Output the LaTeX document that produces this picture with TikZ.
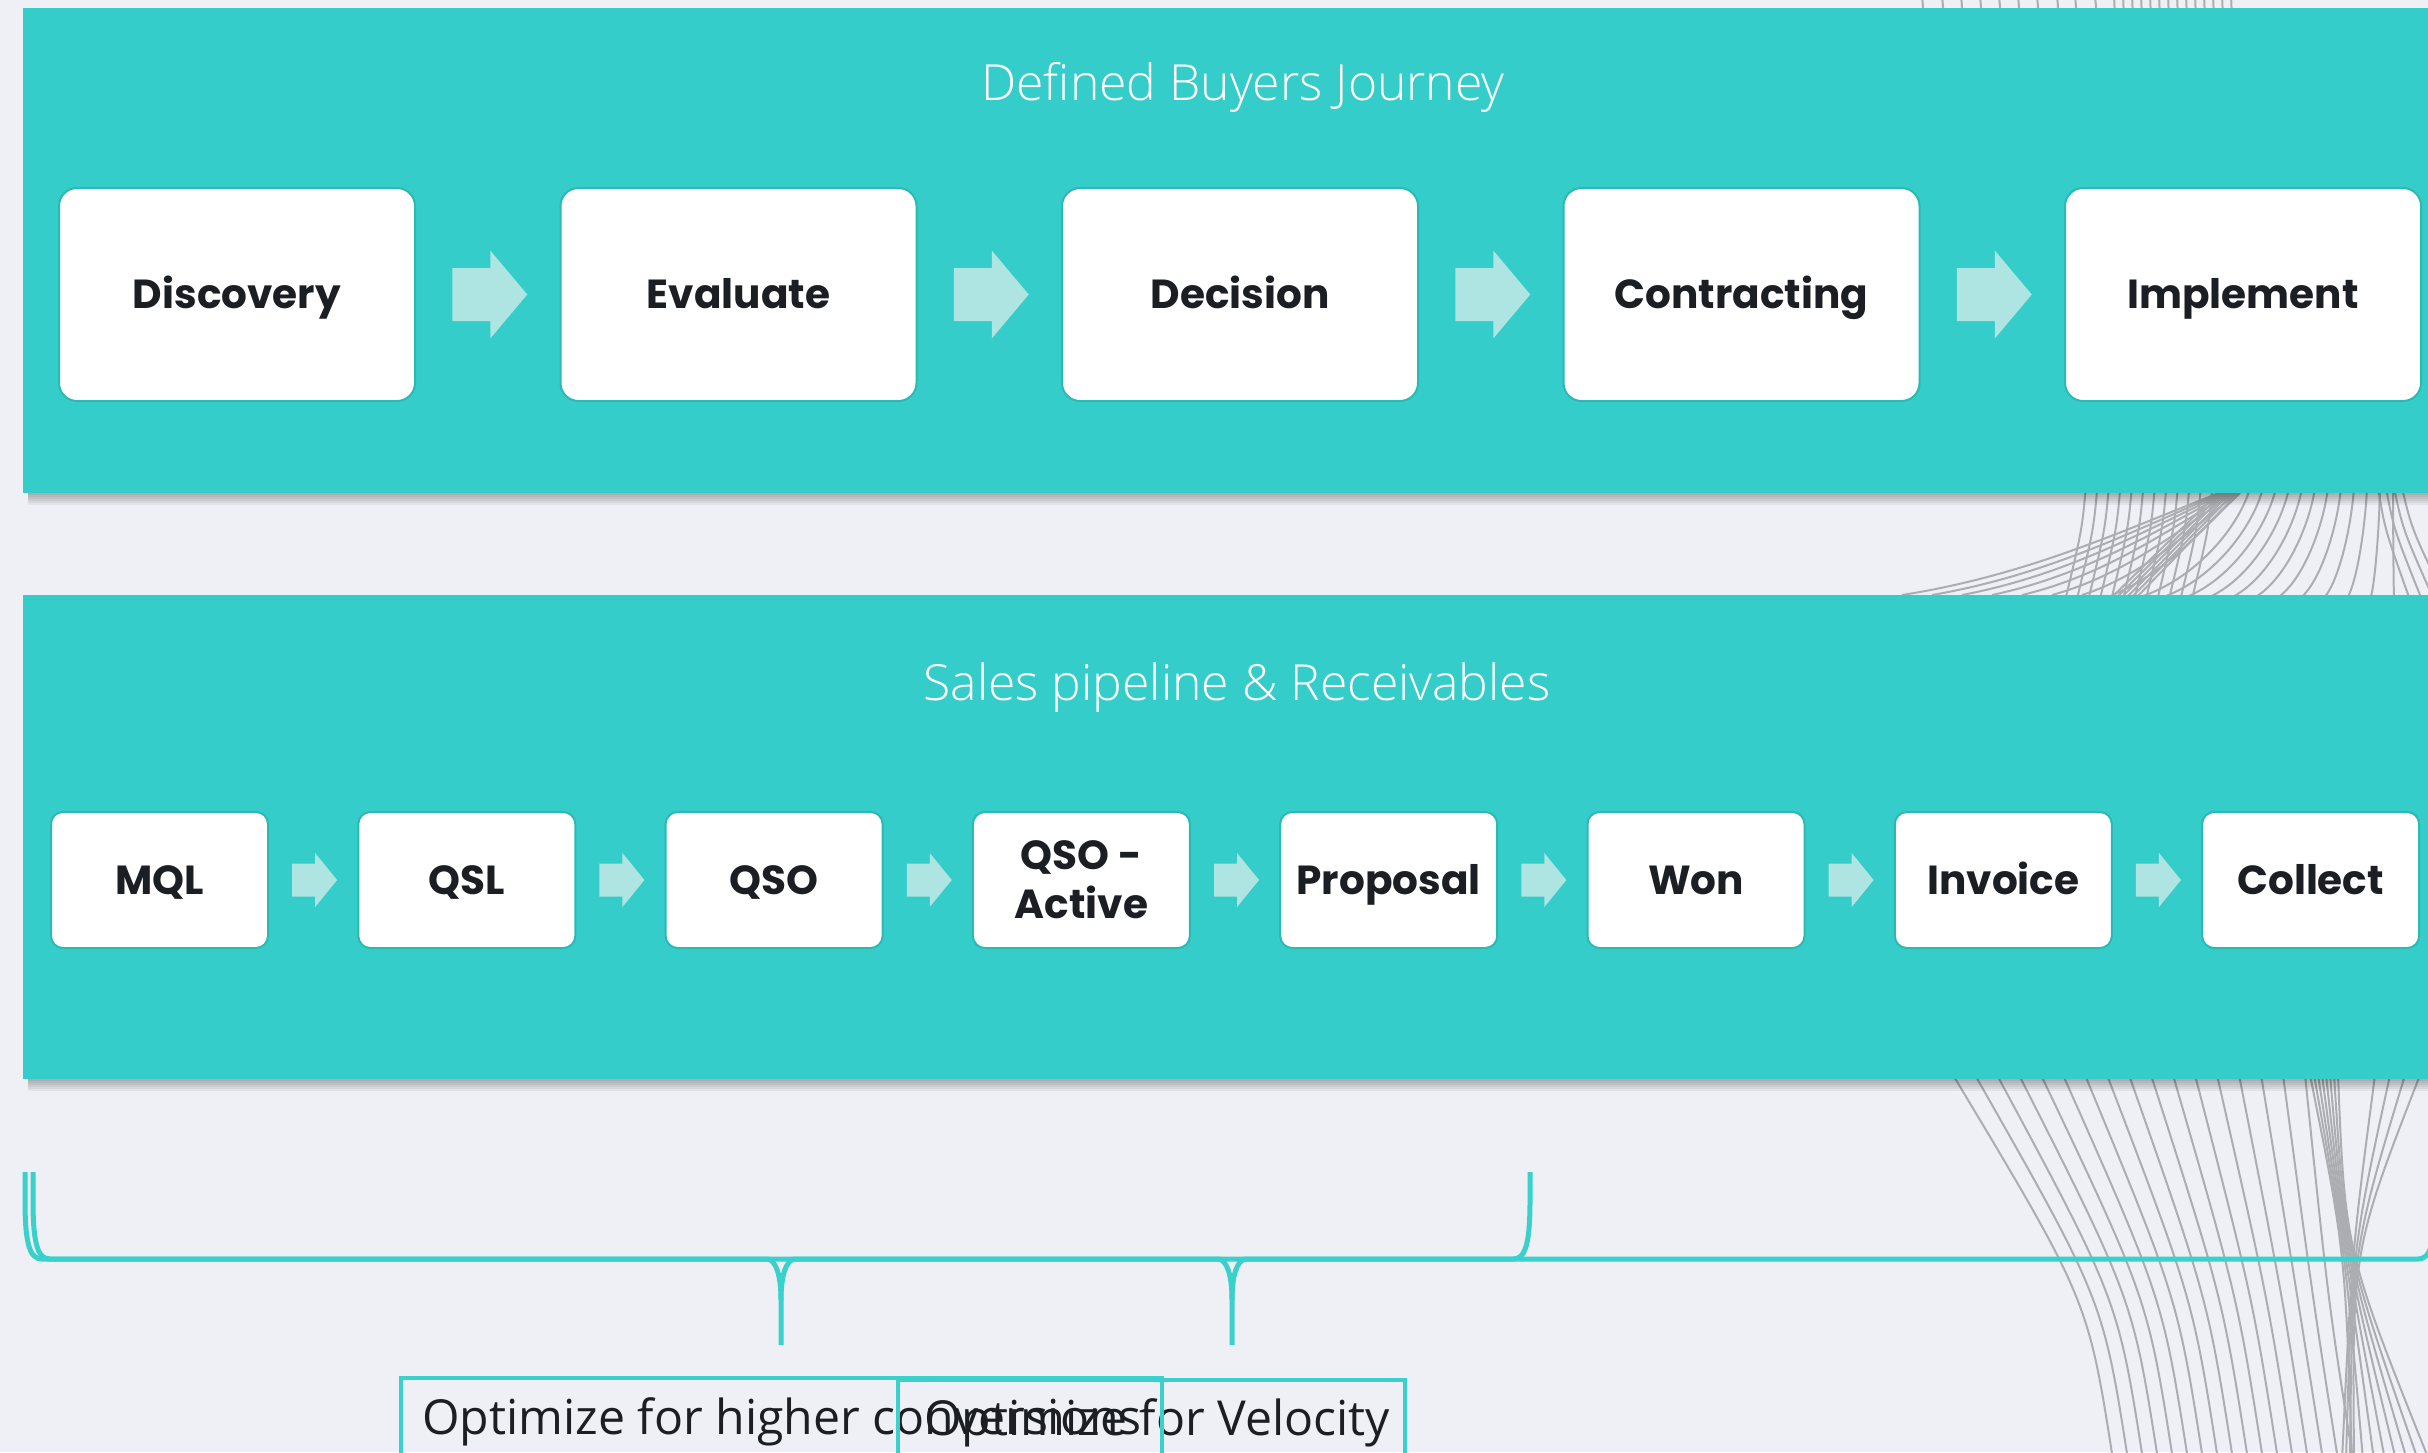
\documentclass[tikz,border=0pt]{standalone}
\usepackage{fontspec}
\setmainfont{Open Sans}
\newfontfamily\lightfont{Open Sans Light}
\newfontfamily\labelfont{Poppins}
\usetikzlibrary{calc}

\definecolor{bg}{RGB}{239,240,245}
\definecolor{panel}{RGB}{53,205,201}
\definecolor{stepfill}{RGB}{174,228,225}
\definecolor{boxedge}{RGB}{44,185,179}
\definecolor{ink}{RGB}{27,31,36}
\definecolor{wavegray}{RGB}{172,173,177}
\definecolor{bracecol}{RGB}{58,208,204}

\tikzset{
  panelbox/.style={fill=panel, draw=none, anchor=north west, inner sep=0pt},
  labeltext/.style={font=\labelfont\bfseries\fontsize{20.3}{24}\selectfont, text=ink,
    text height=14.3pt, text depth=0pt, inner sep=0pt},
  stagebox/.style={labeltext, fill=white, draw=boxedge, line width=1pt,
    rounded corners=9pt, minimum width=178pt, minimum height=106.5pt},
  pipebox/.style={labeltext, fill=white, draw=boxedge, line width=1pt,
    rounded corners=6pt, minimum width=108.5pt, minimum height=68pt},
  paneltitle/.style={text=white, font=\lightfont\fontsize{24.9}{29}\selectfont,
    anchor=base, inner sep=0pt},
  goal/.style={text=ink, font=\fontsize{24.1}{28}\selectfont, anchor=base west, inner sep=0pt},
  goalframe/.style={draw=bracecol, line width=1.7pt},
  wave/.style={draw=wavegray, line width=1pt},
  brace/.style={draw=bracecol, line width=2.5pt, line join=round},
}

\begin{document}
\begin{tikzpicture}[x=0.5pt, y=-0.5pt]
\useasboundingbox (0,0) rectangle (2428,1452);
\clip (0,0) rectangle (2428,1452);
\fill[bg] (0,0) rectangle (2428,1452);

% ---- decorative string waves in the background (right side)
% strands leaving the top edge
\foreach \x in {1922,1942,1961,1980,1999,2018,2037,2057,2075,2095}
  \draw[wave] (\x,-5) -- (\x+2,20);
\foreach \i in {0,...,13}
  \draw[wave] (2114+9*\i,-5) -- (2115+9*\i,20);
% strands between the two panels
\foreach \i in {0,...,11}
  \draw[wave] (2086+11.5*\i,485) .. controls (2082+11.5*\i,530) .. (2064+11.5*\i,605);
\foreach \i in {0,...,7} {
  \pgfmathsetmacro\xb{1902+30*\i}
  \pgfmathsetmacro\xt{2219+3*\i}
  \draw[wave] (\xb,595) .. controls ({\xb+0.4*(\xt-\xb)},575) and ({\xt-0.3*(\xt-\xb)},530) .. (\xt,493);
}
\foreach \i in {0,...,5}
  \draw[wave] (2221+4*\i,490) -- (2104+5*\i,605);
\foreach \i in {0,...,11} {
  \pgfmathsetmacro\xb{2130+24*\i}
  \pgfmathsetmacro\xt{2250+13*\i}
  \draw[wave] (\xb,600) .. controls ({\xb+0.5*(\xt-\xb)},585) and ({\xt-0.1*(\xt-\xb)},530) .. (\xt,488);
}
\foreach \i in {0,...,3}
  \draw[wave] (2378+8*\i,488) .. controls (2385+9*\i,530) .. (2410+12*\i,600);
% strands below the lower panel
\foreach \i in {0,...,16} {
  \pgfmathsetmacro\xa{1953+22*\i}
  \pgfmathsetmacro\xb{2113+15*\i}
  \draw[wave] (\xa,1075) .. controls ({\xb-25},1300) .. (\xb,1460);
}
\foreach \i in {0,...,7}
  \draw[wave] (2310+4*\i,1075) .. controls (2345,1250) .. (2352+11*\i,1460);
\foreach \i in {0,...,3}
  \draw[wave] (2375+15*\i,1075) .. controls (2352,1250) .. (2342+4*\i,1460);

% ---- panel shadows
\foreach \k in {1,...,6} {
  \fill[black, opacity=0.05] (28,493) rectangle (2428,493+2*\k);
  \fill[black, opacity=0.05] (28,1079) rectangle (2428,1079+2*\k);
}

% ---- panels
\node[panelbox, minimum width=1210pt, minimum height=242.75pt] (journey) at (23,7.5) {};
\node[panelbox, minimum width=1210pt, minimum height=242pt] (pipeline) at (23,595) {};

\node[paneltitle] (journeytitle) at (1243,100) {Defined Buyers Journey};
\node[paneltitle] (pipetitle) at (1237,700) {Sales pipeline \& Receivables};

% ---- buyer journey stages
\foreach \t [count=\i from 0] in {Discovery,Evaluate,Decision,Contracting,Implement}
  \node[stagebox] (s\i) at (237+501.5*\i,294.5) {\t};
\foreach \a/\b in {s0/s1,s1/s2,s2/s3,s3/s4}
  \fill[stepfill] ($(\a.east)!0.5!(\b.west)+(-35.5,-26.5)$) -- ++(38,0) -- ++(0,-17.5)
    -- ++(37,44) -- ++(-37,44) -- ++(0,-17.5) -- ++(-38,0) -- cycle;

% ---- pipeline stages
\foreach \t [count=\i from 0] in {MQL,QSL,QSO,{},Proposal,Won,Invoice,Collect}
  \node[pipebox] (p\i) at (159.5+307.3*\i,880) {\t};
\node[labeltext, align=center, text height={}, text depth={},
  font=\labelfont\bfseries\fontsize{20.3}{24.5}\selectfont] (p3text) at (p3) {QSO -\\Active};
\foreach \a/\b in {p0/p1,p1/p2,p2/p3,p3/p4,p4/p5,p5/p6,p6/p7}
  \fill[stepfill] ($(\a.east)!0.5!(\b.west)+(-21,-16.5)$) -- ++(23,0) -- ++(0,-10.5)
    -- ++(22,27) -- ++(-22,27) -- ++(0,-10.5) -- ++(-23,0) -- cycle;

% ---- braces
\coordinate (b1l) at (25,1172);
\coordinate (b1r) at (1530,1172);
\coordinate (b1tip) at (781,1345);
\coordinate (b2l) at (33,1172);
\coordinate (b2r) at (2435,1172);
\coordinate (b2tip) at (1232,1345);
\draw[brace] (b1l) -- (25,1200) .. controls (25,1245) and (30,1259) .. (42,1259)
  -- (768,1259) .. controls (776,1261) and (781,1275) .. (781,1300) -- (b1tip);
\draw[brace] (b1r) -- (1530,1200) .. controls (1530,1245) and (1525,1259) .. (1513,1259)
  -- (794,1259) .. controls (786,1261) and (781,1275) .. (781,1300);
\draw[brace] (b2l) -- (33,1200) .. controls (33,1245) and (38,1259) .. (50,1259)
  -- (1219,1259) .. controls (1227,1261) and (1232,1275) .. (1232,1300) -- (b2tip);
\draw[brace] (b2r) -- (2435,1200) .. controls (2435,1245) and (2430,1259) .. (2418,1259)
  -- (1245,1259) .. controls (1237,1261) and (1232,1275) .. (1232,1300);

% ---- goal labels
\node[goal] (g1) at (422,1434) {Optimize for higher conversions};
\node[goal] (g2) at (924,1435) {Optimize for Velocity};
\draw[goalframe] ($(g1.base west)+(-21,80)$) -- ++(0,-136) -- ++(761,0) -- ++(0,136);
\draw[goalframe] ($(g2.base west)+(-26,80)$) -- ++(0,-135) -- ++(507,0) -- ++(0,135);
\end{tikzpicture}
\end{document}
